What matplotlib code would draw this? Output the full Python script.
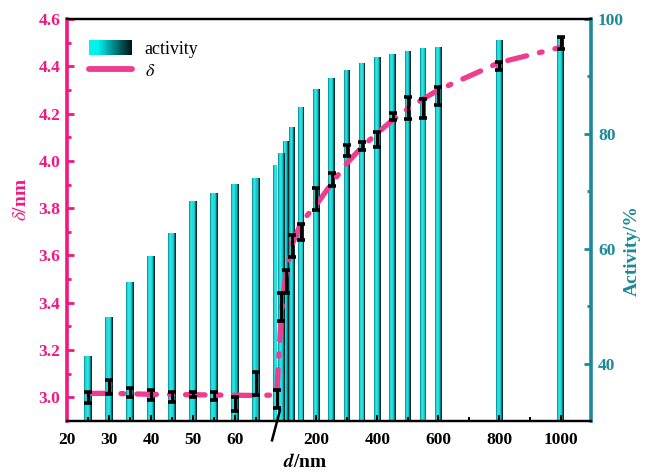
import numpy as np
import matplotlib
matplotlib.use("Agg")
import matplotlib.pyplot as plt
from matplotlib.patches import Rectangle
from matplotlib.lines import Line2D
from matplotlib.legend_handler import HandlerBase
from matplotlib.colors import to_rgb

# ---------------- data ----------------
sizes = [25, 30, 35, 40, 45, 50, 55, 60, 65, 70, 85, 100, 120, 150,
         200, 250, 300, 350, 400, 450, 500, 550, 600, 800, 1000]
activity = [41.4, 48.1, 54.2, 58.8, 62.7, 68.3, 69.7, 71.2, 72.3, 74.6,
            76.7, 78.8, 81.2, 84.6, 87.8, 89.8, 91.2, 92.4, 93.3, 93.9,
            94.4, 94.9, 95.2, 96.3, 96.9]
delta_mean = [2.999, 3.044, 3.021, 3.010, 3.003, 3.012, 3.006, 2.972, 3.058, 2.992,
              3.384, 3.490, 3.640, 3.700, 3.838, 3.922, 4.044, 4.063, 4.092, 4.187,
              4.225, 4.220, 4.274, 4.402, 4.500]
delta_err = [0.022, 0.030, 0.020, 0.021, 0.021, 0.012, 0.018, 0.030, 0.048, 0.039,
             0.059, 0.048, 0.046, 0.035, 0.046, 0.028, 0.023, 0.018, 0.032, 0.014,
             0.046, 0.040, 0.037, 0.018, 0.025]
delta_curve = [3.017, 3.017, 3.015, 3.013, 3.012, 3.011, 3.010, 3.009, 3.008, 3.010,
               3.360, 3.520, 3.645, 3.740, 3.815, 3.905, 3.990, 4.060, 4.118, 4.173,
               4.220, 4.262, 4.300, 4.416, 4.480]

xticks_major = [20, 30, 40, 50, 60, 200, 400, 600, 800, 1000]
xticks_minor = [25, 35, 45, 55, 65, 300, 500, 700, 900]
xtick_labels = ["20", "30", "40", "50", "60", "200", "400", "600", "800", "1000"]

# ---------------- styles ----------------
PINK = "#F2187F"
LINE_PINK = "#EE3D8F"
TEAL = "#1B8A98"
SERIF = ["Liberation Serif", "DejaVu Serif"]

plt.rcParams["font.family"] = SERIF
plt.rcParams["mathtext.fontset"] = "stix"
plt.rcParams["lines.scale_dashes"] = False

# broken x axis: two linear pieces joined at X_BREAK
X0, X_BREAK, X1 = 20.0, 70.0, 1100.0
SL, SR = 4.185, 0.305  # relative stretch of left / right pieces


def fwd(x):
    x = np.asarray(x, dtype=float)
    return np.where(x <= X_BREAK, (x - X0) * SL,
                    (X_BREAK - X0) * SL + (x - X_BREAK) * SR)


def inv(u):
    u = np.asarray(u, dtype=float)
    ub = (X_BREAK - X0) * SL
    return np.where(u <= ub, X0 + u / SL, X_BREAK + (u - ub) / SR)


fig = plt.figure(figsize=(6.45, 4.74), dpi=100)
ax = fig.add_axes([0.1045, 0.1118, 0.8118, 0.8481])
ax.set_xscale("function", functions=(fwd, inv))
ax.set_xlim(X0, X1)
ax2 = ax.twinx()
ax.set_zorder(ax2.get_zorder() + 1)
ax.patch.set_visible(False)

# ---------------- bars (cylinder shading by vertical strips) ----------------
strip_colors = ["#109DA3", "#20D6D8", "#2CE6E6", "#22DCDC", "#17C2C6", "#0C7880", "#072C30"]
sizes_a = np.array(sizes, dtype=float)
bar_px = np.where(sizes_a <= X_BREAK, 8.0, 6.5)
scale = np.where(sizes_a <= X_BREAK, SL, SR)
widths = bar_px / scale
lefts = sizes_a - widths / 2
n = len(strip_colors)
for j, c in enumerate(strip_colors):
    ax2.bar(lefts + j * widths / n, activity, width=widths / n * 1.05,
            align="edge", color=c, linewidth=0, zorder=2)

ax2.set_ylim(30, 100)
ax2.set_yticks([40, 60, 80, 100])
ax2.set_yticks([50, 70, 90], minor=True)

# ---------------- delta curve and error bars ----------------
ax.plot(sizes, delta_curve, color=LINE_PINK, lw=3.8,
        linestyle=(0, (14, 9.5, 2, 9.5)), dash_capstyle="round",
        solid_capstyle="round", zorder=3)
ax.errorbar(sizes, delta_mean, yerr=delta_err, fmt="none", ecolor="black",
            elinewidth=2.2, capsize=3.2, capthick=2.6, zorder=4)

ax.set_ylim(2.9, 4.6)
ax.set_yticks(np.round(np.arange(3.0, 4.61, 0.2), 1))
ax.set_yticks(np.round(np.arange(3.1, 4.6, 0.2), 1), minor=True)
ax.set_yticklabels([f"{v:.1f}" for v in np.arange(3.0, 4.61, 0.2)])

ax.set_xticks(xticks_major)
ax.set_xticks(xticks_minor, minor=True)
ax.set_xticklabels(xtick_labels)

# ---------------- spines and ticks ----------------
for a in (ax, ax2):
    a.spines["top"].set_linewidth(1.6)
    a.spines["bottom"].set_linewidth(1.6)
ax.spines["right"].set_visible(False)
ax2.spines["left"].set_visible(False)
ax.spines["left"].set_color(PINK)
ax.spines["left"].set_linewidth(2.6)
ax2.spines["right"].set_color(TEAL)
ax2.spines["right"].set_linewidth(2.6)

tick_font = dict(family=SERIF, weight="bold", size=12.5)
ax.tick_params(axis="x", which="both", direction="in", top=False, width=1.4,
               pad=8, labelsize=12.5)
ax.tick_params(axis="x", which="major", length=4)
ax.tick_params(axis="x", which="minor", length=3)
ax.tick_params(axis="y", which="both", direction="in", colors=PINK, width=2,
               labelsize=12.5, pad=5)
ax.tick_params(axis="y", which="major", length=5)
ax.tick_params(axis="y", which="minor", length=3)
ax2.tick_params(axis="y", which="both", direction="in", colors=TEAL, width=2,
                labelsize=12.5, pad=5)
ax2.tick_params(axis="y", which="major", length=5)
ax2.tick_params(axis="y", which="minor", length=3)
for lab in ax.get_xticklabels() + ax.get_yticklabels() + ax2.get_yticklabels():
    lab.set_fontweight("bold")

# axis break mark
bx = (fwd(X_BREAK) - fwd(X0)) / (fwd(X1) - fwd(X0))
ax.plot([bx - 0.009, bx + 0.006], [-0.048, 0.026], transform=ax.transAxes,
        color="black", lw=1.8, clip_on=False, zorder=6)

# ---------------- axis titles ----------------
ax.text(0.454, -0.103, r"$\boldsymbol{d}$/nm", transform=ax.transAxes,
        ha="center", va="center", fontsize=14, fontweight="bold", color="black")
ax.text(-0.087, 0.55, r"$\delta$/nm", transform=ax.transAxes, rotation=90,
        ha="center", va="center", fontsize=14, fontweight="bold", color=PINK)
ax.text(1.079, 0.425, "Activity/%", transform=ax.transAxes, rotation=90,
        ha="center", va="center", fontsize=14, fontweight="bold", color=TEAL)

# ---------------- legend ----------------
class GradientHandler(HandlerBase):
    def __init__(self, c0, c1, steps=30, **kw):
        super().__init__(**kw)
        self.c0, self.c1, self.steps = np.array(to_rgb(c0)), np.array(to_rgb(c1)), steps

    def create_artists(self, legend, orig_handle, xdescent, ydescent, width,
                       height, fontsize, trans):
        arts = []
        for i in range(self.steps):
            t = i / (self.steps - 1)
            t = max(0.0, (t - 0.2) / 0.8)
            col = self.c0 * (1 - t) + self.c1 * t
            arts.append(Rectangle((-xdescent + i * width / self.steps, -ydescent),
                                  width / self.steps * 1.05, height,
                                  facecolor=col, edgecolor="none", transform=trans))
        return arts


bar_proxy = Rectangle((0, 0), 1, 1)
line_proxy = Line2D([], [], color=LINE_PINK, lw=4.2, solid_capstyle="round")
ax.legend([bar_proxy, line_proxy], ["activity", r"$\delta$"],
          handler_map={bar_proxy: GradientHandler("#00F2F2", "#021414")},
          loc="upper left", bbox_to_anchor=(0.02, 0.975), frameon=False,
          fontsize=13, handlelength=2.4, handleheight=0.95, handletextpad=0.7,
          labelspacing=0.25, borderaxespad=0.2)

fig.savefig("out.png", dpi=100)
